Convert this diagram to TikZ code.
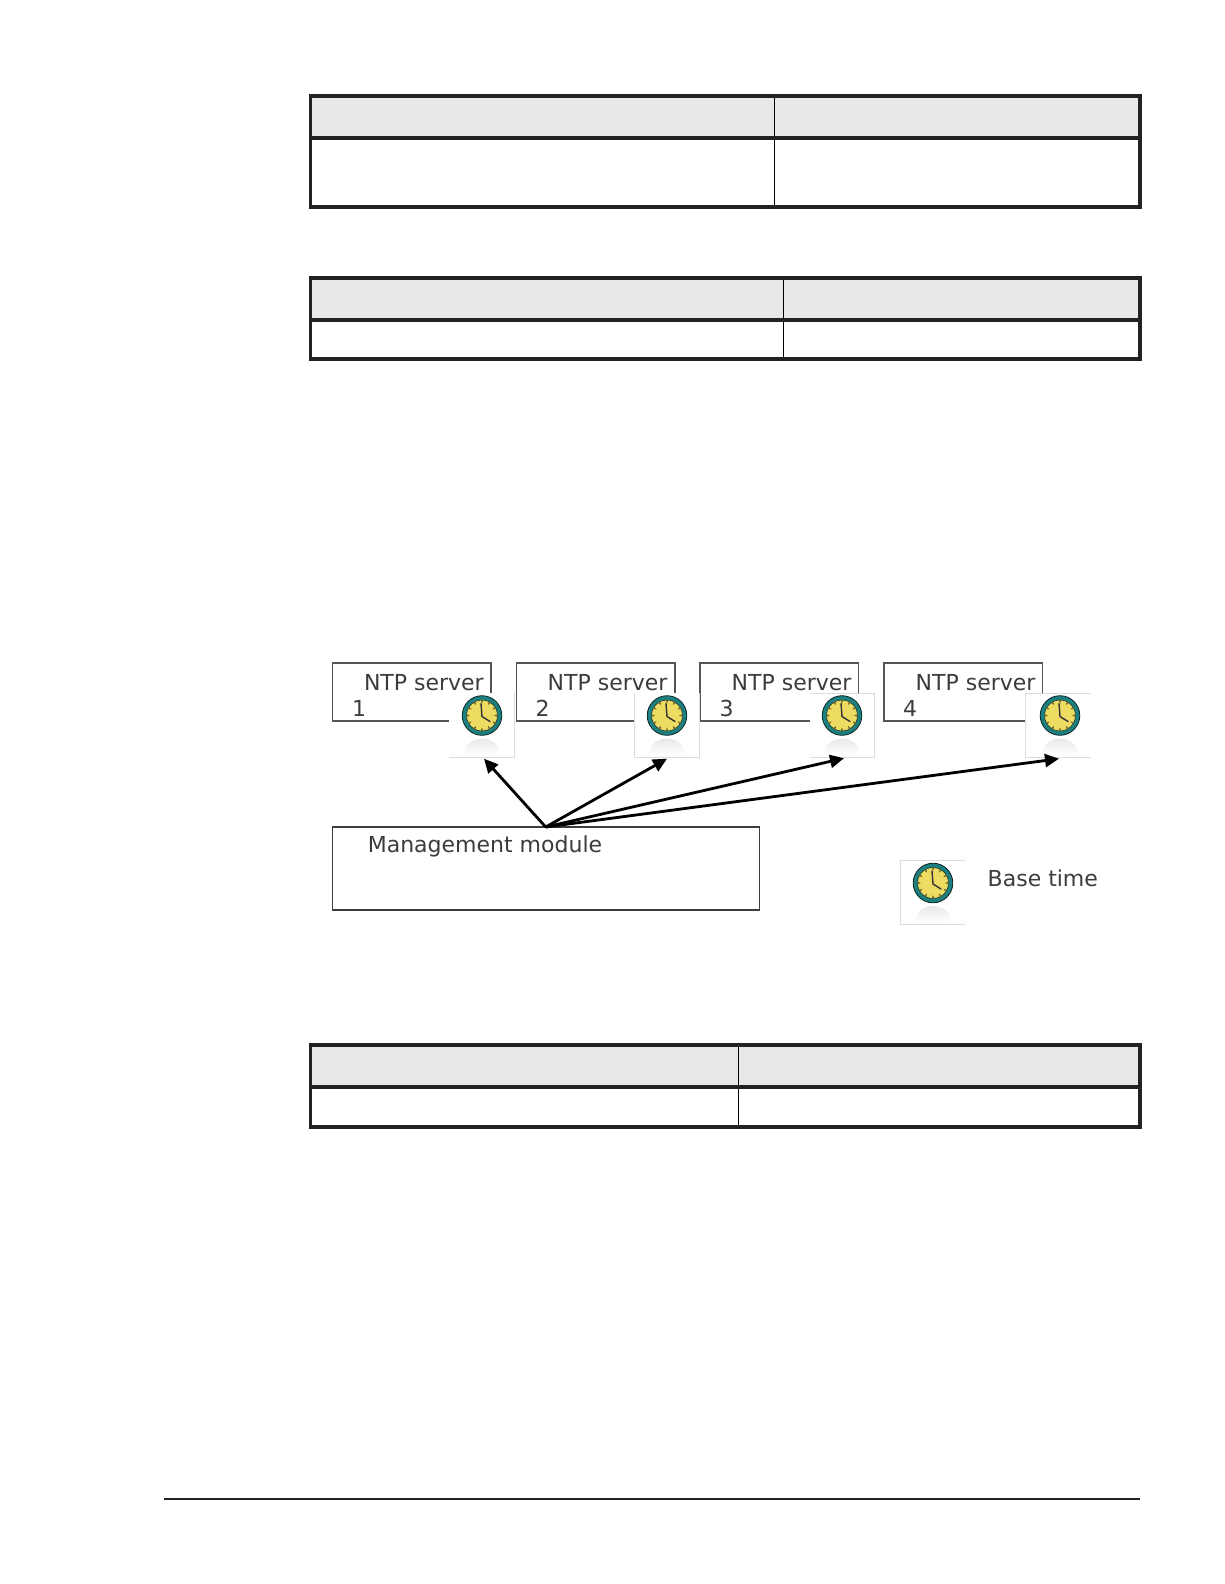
\documentclass[tikz,border=0pt]{standalone}
\usepackage{fontspec}
\setmainfont{DejaVu Sans}
\usetikzlibrary{arrows.meta}
\definecolor{tblline}{HTML}{222222}
\definecolor{tblhead}{HTML}{E8E8E8}
\definecolor{boxline}{HTML}{555555}
\definecolor{lbl}{HTML}{3C3C3C}
\definecolor{ring}{HTML}{1E7F80}
\definecolor{face}{HTML}{EEDC62}
\definecolor{edgefaint}{HTML}{DCDCDC}
\newcommand{\drawtbl}[5]{% top, header bottom, bottom, divider x (stroke centres)
  \fill[tblhead] (310.5,#1) rectangle (1140,#2);
  \draw[line width=1pt,black] (#4,#1) -- (#4,#3);
  \draw[line width=3.6pt,tblline] (310.5,#2) -- (1140,#2);
  \draw[line width=3.6pt,tblline] (310.5,#1) rectangle (1140,#3);
}
\tikzset{
  x=1pt,y=-1pt,
  serverbox/.style={draw=boxline,line width=1.4pt,fill=white,minimum width=158.5pt,minimum height=58pt,inner sep=0pt,outer sep=0pt},
  mgmtbox/.style={draw=boxline!70!black,line width=1.4pt,fill=white,minimum width=427pt,minimum height=83pt,inner sep=0pt,outer sep=0pt},
  clockbox/.style={fill=white,minimum width=65pt,minimum height=64pt,inner sep=0pt,outer sep=0pt},
  faintedge/.style={draw=edgefaint,line width=1pt},
  txt/.style={text=lbl,font=\fontsize{22}{24}\selectfont,anchor=base west,inner sep=0pt,outer sep=0pt},
  sync/.style={line width=2.8pt,black,-{Triangle[length=14pt,width=13pt]}},
  clockpic/.pic={
    \shade[top color=black!9,bottom color=white,draw=none] (-18,39) arc[start angle=180,end angle=360,x radius=18,y radius=16] -- cycle;
    \fill[ring,draw=black!70!ring,line width=0.8pt] (0,0) circle[radius=19.8];
    \fill[face,draw=black!55!ring,line width=0.6pt] (0,0) circle[radius=15.5];
    \foreach \a in {0,30,...,330}{
      \fill[black!50!face,rotate=\a] (-1.5,-15.6) -- (1.5,-15.6) -- (0,-12) -- cycle;
    }
    \draw[black!80,line width=1.4pt,line cap=round] (-1,-12) -- (0,1) -- (8,6);
  }
}
\begin{document}
\begin{tikzpicture}
\useasboundingbox (0,0) rectangle (1224,1584);
\fill[white] (0,0) rectangle (1224,1584);

% tables
\drawtbl{96}{137.8}{207}{774.5}{}
\drawtbl{278}{320}{358.8}{783.5}{}
\drawtbl{1045}{1087}{1127}{738.5}{}

% footer rule
\draw[line width=2pt,tblline] (164,1499) -- (1140,1499);

% server boxes
\node[serverbox] (srv1) at (411.7,692) {};
\node[serverbox] (srv2) at (595.7,692) {};
\node[serverbox] (srv3) at (779.2,692) {};
\node[serverbox] (srv4) at (963.4,692) {};
\node[mgmtbox] (mgmt) at (545.7,868.5) {};

% box labels
\node[txt] (t1) at (364,690) {NTP server};
\node[txt] (n1) at (352,716.7) {1};
\node[txt] (t2) at (547.7,690) {NTP server};
\node[txt] (n2) at (535.7,716.7) {2};
\node[txt] (t3) at (731.7,690) {NTP server};
\node[txt] (n3) at (719.7,716.7) {3};
\node[txt] (t4) at (915.7,690) {NTP server};
\node[txt] (n4) at (903,716.7) {4};
\node[txt] (tm) at (367.8,852) {Management module};

% clock tiles
\node[clockbox] (clk1) at (481.5,725) {};
\node[clockbox] (clk2) at (666.5,725) {};
\node[clockbox] (clk3) at (842,725) {};
\node[clockbox] (clk4) at (1058,725) {};
\node[clockbox] (clk5) at (932.5,892) {};

\draw[faintedge] (clk1.north east) -- (clk1.south east) -- (clk1.south west);
\draw[faintedge] (clk2.north east) -- (clk2.south east) -- (clk2.south west) -- (clk2.north west);
\draw[faintedge] (clk3.north west) -- (clk3.north east) -- (clk3.south east) -- (clk3.south west);
\draw[faintedge] (clk4.north east) -- (clk4.north west) -- (clk4.south west) -- (clk4.south east);
\draw[faintedge] (clk5.north east) -- (clk5.north west) -- (clk5.south west) -- (clk5.south east);

\pic at (482,715.5) {clockpic};
\pic at (667,715.5) {clockpic};
\pic at (842,715.5) {clockpic};
\pic at (1060,715.5) {clockpic};
\pic at (933,883) {clockpic};

\node[txt] (tb) at (987.7,886.7) {Base time};

% connectors
\draw[sync] (mgmt.north) -- ([xshift=2.5pt,yshift=-1.7pt]clk1.south);
\draw[sync] (mgmt.north) -- ([xshift=0.5pt,yshift=-1.7pt]clk2.south);
\draw[sync] (mgmt.north) -- ([xshift=2pt,yshift=-1.2pt]clk3.south);
\draw[sync] (mgmt.north) -- ([xshift=1pt,yshift=-1.7pt]clk4.south);
\end{tikzpicture}
\end{document}
